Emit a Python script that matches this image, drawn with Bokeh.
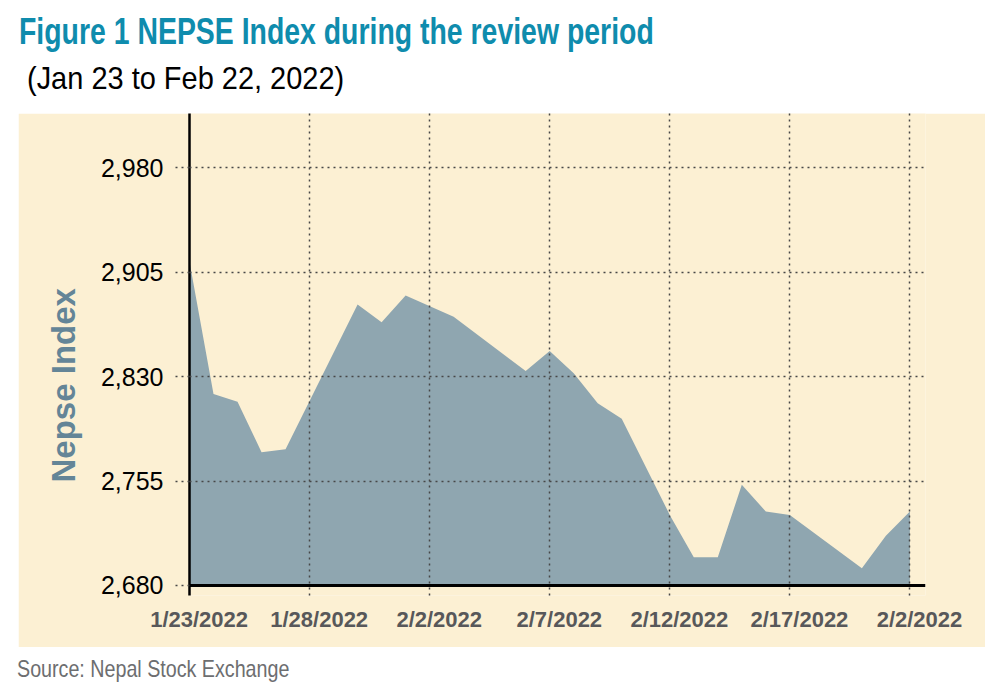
import pandas as pd
from bokeh.plotting import figure
from bokeh.models import Range1d, LinearAxis, FixedTicker, Grid, Div, Spacer, Span, Title
from bokeh.layouts import column, row
from bokeh.embed import file_html
from bokeh.resources import INLINE

# ---------------- data ----------------
dates = ["2022-01-23", "2022-01-24", "2022-01-25", "2022-01-26", "2022-01-27",
         "2022-01-30", "2022-01-31", "2022-02-01", "2022-02-03", "2022-02-06",
         "2022-02-07", "2022-02-08", "2022-02-09", "2022-02-10", "2022-02-12",
         "2022-02-13", "2022-02-14", "2022-02-15", "2022-02-16", "2022-02-17",
         "2022-02-20", "2022-02-21", "2022-02-22"]
nepse = [2912.6, 2817.6, 2812.0, 2775.7, 2777.8,
         2881.9, 2869.0, 2888.2, 2873.0, 2834.0,
         2848.5, 2832.4, 2810.9, 2799.7, 2730.7,
         2700.3, 2700.3, 2752.3, 2733.1, 2730.7,
         2692.4, 2715.7, 2733.1]

x_tick_dates = ["2022-01-23", "2022-01-28", "2022-02-02", "2022-02-07",
                "2022-02-12", "2022-02-17", "2022-02-22"]
x_tick_labels = ["1/23/2022", "1/28/2022", "2/2/2022", "2/7/2022",
                 "2/12/2022", "2/17/2022", "2/2/2022"]
y_ticks = [2680, 2755, 2830, 2905, 2980]
y_tick_labels = ["2,680", "2,755", "2,830", "2,905", "2,980"]

title_text = "Figure 1 NEPSE Index during the review period"
subtitle_text = "(Jan 23 to Feb 22, 2022)"
y_label = "Nepse Index"
source_text = "Source: Nepal Stock Exchange"

# ---------------- styles ----------------
CREAM = "#fcf0d3"
AREA = "#8fa6b0"
TEAL = "#0f8cad"
YLAB = "#648597"
GRID = "#474747"

origin = pd.Timestamp(dates[0])
xs = [(pd.Timestamp(d) - origin).days for d in dates]
xt = [(pd.Timestamp(d) - origin).days for d in x_tick_dates]
y_base = y_ticks[0]

p = figure(width=967, height=534, output_backend="svg", toolbar_location=None,
           x_range=Range1d(0, 30.65), y_range=Range1d(2672.8, 3019),
           x_axis_location=None, y_axis_location=None,
           min_border_left=171, min_border_right=60, min_border_top=0,
           min_border_bottom=52,
           background_fill_color=CREAM, border_fill_color=CREAM,
           outline_line_color=None)
for g in list(p.xgrid) + list(p.ygrid):
    g.visible = False
p.extra_x_ranges = {"lbl": Range1d(-0.4, 30.65 - 0.4)}

p.varea(x=xs, y1=[y_base] * len(xs), y2=nepse, fill_color=AREA)

p.add_layout(Grid(dimension=0, ticker=FixedTicker(ticks=xt[1:]),
                  grid_line_color=GRID, grid_line_dash="dotted",
                  grid_line_width=1.5, level="overlay"))
p.add_layout(Grid(dimension=1, ticker=FixedTicker(ticks=y_ticks[1:]),
                  grid_line_color=GRID, grid_line_dash="dotted",
                  grid_line_width=1.5, level="overlay"))
p.add_layout(Span(location=y_base, dimension="width", line_color="black",
                  line_width=3, level="overlay"))

yax = LinearAxis(ticker=FixedTicker(ticks=y_ticks),
                 major_label_overrides=dict(zip(y_ticks, y_tick_labels)),
                 axis_line_color="black", axis_line_width=2.5,
                 major_tick_out=14, major_tick_in=0,
                 major_tick_line_dash="dotted", major_tick_line_color=GRID,
                 major_tick_line_width=1.5,
                 minor_tick_line_color=None,
                 major_label_standoff=12,
                 major_label_text_font="Liberation Sans",
                 major_label_text_font_size="25px",
                 major_label_text_color="black")
p.add_layout(yax, "left")

# vertical axis title in the left margin (sits low, like the original)
p.add_layout(Title(text=y_label, align="left", offset=113, standoff=32,
                   text_font="Liberation Sans", text_font_style="bold",
                   text_font_size="33px", text_color=YLAB), "left")

xax_labels = LinearAxis(x_range_name="lbl", ticker=FixedTicker(ticks=xt),
                        major_label_overrides=dict(zip(xt, x_tick_labels)),
                        axis_line_color=None, major_tick_line_color=None,
                        major_tick_out=0, major_tick_in=0,
                        minor_tick_line_color=None,
                        major_label_standoff=11,
                        major_label_text_font="Liberation Sans",
                        major_label_text_font_style="bold",
                        major_label_text_font_size="22px",
                        major_label_text_color="#58585a")
p.add_layout(xax_labels, "below")

title_html = f"""
<div style="position:relative;width:994px;height:103px;background:white;">
  <div style="position:absolute;left:14px;top:6px;white-space:nowrap;line-height:1;
       font:bold 37px 'Liberation Sans';color:{TEAL};transform:scaleX(0.768);transform-origin:0 0;">{title_text}</div>
  <div style="position:absolute;left:22px;top:55px;white-space:nowrap;line-height:1;
       font:32px 'Liberation Sans';color:black;transform:scaleX(0.905);transform-origin:0 0;">{subtitle_text}</div>
</div>
"""
source_html = f"""
<div style="position:relative;width:994px;height:40px;background:white;">
  <div style="position:absolute;left:12px;top:3px;white-space:nowrap;line-height:1;
       font:24px 'Liberation Sans';color:#6d6e70;transform:scaleX(0.82);transform-origin:0 0;">{source_text}</div>
</div>
"""

title_div = Div(text=title_html, width=994, height=103)
source_div = Div(text=source_html, width=994, height=40)

layout = column(title_div, row(Spacer(width=18, height=534), p), source_div)

open("out.html", "w").write(file_html(layout, INLINE))
